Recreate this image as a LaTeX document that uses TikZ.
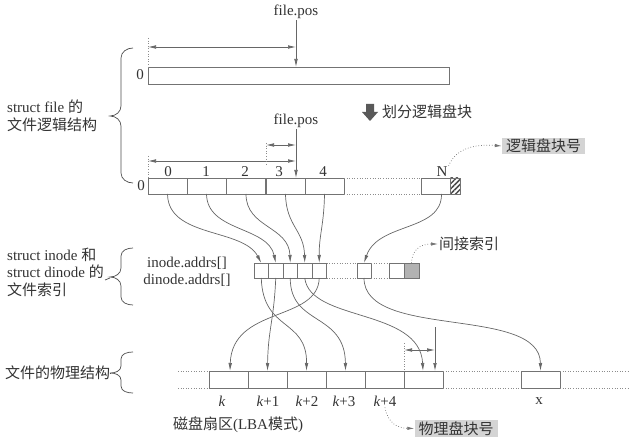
\documentclass[tikz,border=0pt]{standalone}
\usepackage{fontspec}
\setmainfont{Liberation Serif}
\newfontfamily\cjk{Noto Sans CJK SC}
\usetikzlibrary{arrows.meta,patterns.meta}
\begin{document}
\begin{tikzpicture}[x=1pt,y=-1pt,
  font=\fontsize{15}{18}\selectfont, text=black!80,
  ln/.style={draw=black!60, line width=0.7pt},
  arr/.style={ln, -{Latex[length=8pt,width=3.6pt]}},
  darr/.style={ln, {Latex[length=8pt,width=3.6pt]}-{Latex[length=8pt,width=3.6pt]}},
  dots/.style={draw=black!45, dotted, line width=0.6pt},
  dotarr/.style={draw=black!55, dotted, line width=0.7pt, -{Latex[length=7pt,width=3.4pt]}},
  blk/.style={draw=black!55, line width=0.6pt, inner sep=0pt, outer sep=0pt},
  lblock/.style={blk, minimum width=39pt, minimum height=16pt},
  iblock/.style={blk, minimum width=14.5pt, minimum height=15pt},
  pblock/.style={blk, minimum width=39pt, minimum height=17pt},
  gbox/.style={fill=black!17, inner xsep=4pt, inner ysep=1.5pt},
  lbl/.style={inner sep=1pt},
  brc/.style={draw=black!70, line width=0.7pt}
]
\useasboundingbox (0,0) rectangle (631,446);

% ---------- top bar ----------
\node[blk, minimum width=301pt, minimum height=17pt] (bar) at (298.5,75.5) {};
\node[lbl] (z1) at (140,75) {0};
\node[lbl] (fp1) at (296,12) {file.pos};
\coordinate (fpe1) at (296,67);
\draw[arr] (fp1.south) -- (fpe1);
\coordinate (a1L) at (148,47);
\coordinate (a1R) at (296,47);
\draw[darr] (a1L) -- (a1R);
\coordinate (d1) at (148,38);
\draw[dots] (d1) -- (bar.north west);

% ---------- divide arrow ----------
\fill[black!65] (366,104) -- (374,104) -- (374,112) -- (378,112) -- (370,121) -- (362,112) -- (366,112) -- cycle;
\node[lbl, anchor=west] (div) at (381,112) {\cjk 划分逻辑盘块};

% ---------- logical blocks ----------
\foreach \n/\c in {0/167.5,1/206.5,2/246,3/285.5,4/324.5}
  \node[lblock] (L\n) at (\c,186) {};
\node[blk, minimum width=29pt, minimum height=16pt] (LN) at (435.5,186) {};
\node[blk, minimum width=10pt, minimum height=16pt,
  pattern={Lines[angle=45,distance=3.6pt,line width=1.5pt]}, pattern color=black!70] (LH) at (455,186) {};
\draw[dots] (L4.north east) -- (LN.north west);
\draw[dots] (L4.south east) -- (LN.south west);
\node[lbl] (z2) at (141,186) {0};
\foreach \n/\c in {0/168,1/206,2/245,3/279,4/323}
  \node[lbl] (nl\n) at (\c,172) {\n};
\node[lbl] (nN) at (442,172) {N};

\node[lbl] (fp2) at (296,121) {file.pos};
\coordinate (fpe2) at (296,178);
\draw[arr] (fp2.south) -- (fpe2);
\coordinate (a2L) at (148,161);
\coordinate (a2R) at (296,161);
\draw[darr] (a2L) -- (a2R);
\coordinate (d2) at (148,156);
\draw[dots] (d2) -- (L0.north west);
\coordinate (a3L) at (266,145);
\coordinate (a3R) at (296,145);
\draw[darr] (a3L) -- (a3R);
\coordinate (d3a) at (266,143);
\coordinate (d3b) at (266,164);
\draw[dots] (d3a) -- (d3b);

\node[gbox] (lbn) at (543.5,146) {\cjk 逻辑盘块号};
\draw[dotarr] (nN.north east) .. controls (456,148) and (475,144) .. (lbn.west);

% ---------- index blocks ----------
\foreach \n/\c in {0/261.25,1/275.75,2/290.25,3/304.75,4/319.25}
  \node[iblock] (I\n) at (\c,270.5) {};
\node[iblock, minimum width=14pt] (IA) at (364,270.5) {};
\node[iblock, minimum width=15pt] (IB) at (396.5,270.5) {};
\node[iblock, minimum width=15pt, fill=black!30] (IG) at (411.5,270.5) {};
\draw[dots] (I4.north east) -- (IA.north west);
\draw[dots] (I4.south east) -- (IA.south west);
\draw[dots] (IA.north east) -- (IB.north west);
\draw[dots] (IA.south east) -- (IB.south west);
\node[lbl] (ia) at (187,263) {inode.addrs[]};
\node[lbl] (da) at (187,280) {dinode.addrs[]};
\node[lbl, anchor=west] (ijs) at (438,244) {\cjk 间接索引};
\draw[dotarr] (IG.north) .. controls (412,250) and (420,244) .. (ijs.west);

% ---------- logical -> index ----------
\draw[arr] (L0.south) .. controls (168,238) and (243,228) .. (I0.north);
\draw[arr] (L1.south) .. controls (207,232) and (268,226) .. (I1.north);
\draw[arr] (L2.south) .. controls (246,228) and (289,226) .. (I2.north);
\draw[arr] (L3.south) .. controls (286,226) and (304,230) .. (I3.north);
\draw[arr] (L4.south) .. controls (324,225) and (319,235) .. (I4.north);
\draw[arr] ([xshift=6pt]LN.south) .. controls (442,232) and (378,222) .. (IA.north);

% ---------- physical blocks ----------
\foreach \n/\c in {0/228.5,1/267.5,2/306.5,3/345.5,4/384.5,5/423.5}
  \node[pblock] (P\n) at (\c,379.5) {};
\node[pblock] (PX) at (540.5,379.5) {};
\coordinate (pl1) at (178,371);
\coordinate (pl2) at (178,388);
\coordinate (pr1) at (630,371);
\coordinate (pr2) at (630,388);
\draw[dots] (pl1) -- (P0.north west);
\draw[dots] (pl2) -- (P0.south west);
\draw[dots] (P5.north east) -- (PX.north west);
\draw[dots] (P5.south east) -- (PX.south west);
\draw[dots] (PX.north east) -- (pr1);
\draw[dots] (PX.south east) -- (pr2);

\node[lbl] (nk0) at (222,401) {\textit{k}};
\node[lbl] (nk1) at (268,401) {\textit{k}+1};
\node[lbl] (nk2) at (307,401) {\textit{k}+2};
\node[lbl] (nk3) at (344,401) {\textit{k}+3};
\node[lbl] (nk4) at (385,401) {\textit{k}+4};
\node[lbl] (nx) at (539,401) {x};
\node[lbl] (lba) at (238,425) {{\cjk 磁盘扇区}(LBA{\cjk 模式})};
\node[gbox] (pbn) at (456,428.5) {\cjk 物理盘块号};
\draw[dotarr] (nk4.south) .. controls (388,424) and (398,428) .. (pbn.west);

\coordinate (pv1) at (435,327);
\coordinate (pv2) at (435,371);
\draw[arr] (pv1) -- (pv2);
\coordinate (a4L) at (404,350);
\coordinate (a4R) at (435,350);
\draw[darr] (a4L) -- (a4R);
\coordinate (d4) at (404,343);
\draw[dots] (d4) -- (P5.north west);

% ---------- index -> physical ----------
\draw[arr] (I0.south) .. controls (263,332) and (307,318) .. (P2.north);
\draw[arr] (I1.south) .. controls (274,320) and (268,330) .. (P1.north);
\draw[arr] (I2.south) .. controls (290,326) and (345,312) .. (P3.north);
\draw[arr] (I3.south) .. controls (310,322) and (420,308) .. ([xshift=-0.5pt]P5.north);
\draw[arr] (I4.south) .. controls (318,322) and (232,306) .. ([xshift=1.5pt]P0.north);
\draw[arr] (IA.south) .. controls (364,340) and (540,305) .. (PX.north);

% ---------- left labels and braces ----------
\node[lbl, anchor=west] (t1) at (6,107) {struct file {\cjk 的}};
\node[lbl, anchor=west] (t2) at (6,125) {\cjk 文件逻辑结构};
\draw[brc] (133,48) to[out=180,in=90] (121,58) -- (121,106) to[out=-90,in=0] (110,116)
  to[out=0,in=90] (121,126) -- (121,173) to[out=-90,in=180] (133,183);

\node[lbl, anchor=west] (t3) at (6,255) {struct inode {\cjk 和}};
\node[lbl, anchor=west] (t4) at (6,272) {struct dinode {\cjk 的}};
\node[lbl, anchor=west] (t5) at (6,290) {\cjk 文件索引};
\draw[brc] (133,248) to[out=180,in=90] (121,256) -- (121,268) to[out=-90,in=0] (110,277)
  to[out=0,in=90] (121,286) -- (121,297) to[out=-90,in=180] (133,305);
\coordinate (b2t) at (110,278);
\draw[brc] (t4.south east) -- (b2t);

\node[lbl, anchor=west] (t6) at (4,373) {\cjk 文件的物理结构};
\draw[brc] (133,352) to[out=180,in=90] (121,359) -- (121,366) to[out=-90,in=0] (110,373)
  to[out=0,in=90] (121,380) -- (121,386) to[out=-90,in=180] (133,393);
\coordinate (b3t) at (110,373);
\draw[brc] (t6.east) -- (b3t);
\end{tikzpicture}
\end{document}
